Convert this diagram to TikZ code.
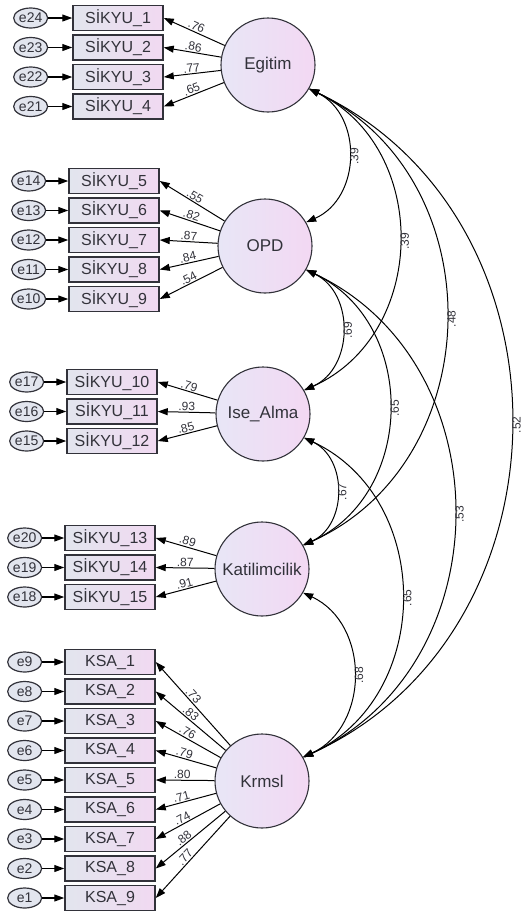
\documentclass[tikz,border=0pt]{standalone}
\usepackage{fontspec}
\setmainfont{Liberation Sans}
\usepackage{tikz}
\usetikzlibrary{shapes,arrows.meta,positioning}

\definecolor{inkgray}{RGB}{50,50,58}
\definecolor{boxleft}{RGB}{226,229,238}
\definecolor{boxright}{RGB}{241,217,241}
\definecolor{latleft}{RGB}{232,230,246}
\definecolor{latright}{RGB}{243,216,243}

\begin{document}
\begin{tikzpicture}[
	x=1pt, y=-1pt,
	latnode/.style={circle, draw=inkgray, line width=1.1pt, left color=latleft, right color=latright, minimum size=94pt, inner sep=0pt, text=inkgray, font=\fontsize{17}{17}\selectfont},
	obsnode/.style={rectangle, draw=inkgray, line width=1.5pt, left color=boxleft, right color=boxright, minimum width=90pt, minimum height=25pt, inner sep=0pt, text=inkgray, font=\fontsize{16}{16}\selectfont},
	errnode/.style={ellipse, draw=inkgray, line width=1.2pt, fill=boxleft, minimum width=34pt, minimum height=20pt, inner sep=0pt, text=inkgray, font=\fontsize{14}{14}\selectfont},
	loadline/.style={-{Triangle[length=10pt,width=7pt]}, line width=1pt},
	errline/.style={-{Triangle[length=10pt,width=7pt]}, line width=1.2pt},
	covline/.style={{Triangle[length=10pt,width=7pt]}-{Triangle[length=10pt,width=7pt]}, line width=1pt, bend left=65, looseness=1.15},
	estlabel/.style={text=inkgray, inner sep=1pt, font=\fontsize{12}{12}\selectfont},
	]
	\useasboundingbox (0,0) rectangle (529,914);
	
	%Latent nodes
	\node[latnode] (Egitim) at (268,65)  {Egitim};
	\node[latnode] (OPD)    at (265,246) {OPD};
	\node[latnode] (Ise)    at (263,414) {Ise\_Alma};
	\node[latnode] (Kat)    at (262,569) {Katilimcilik};
	\node[latnode] (Krmsl)  at (262,781) {Krmsl};
	
	%Observed nodes
	\node[obsnode] (S1) at (118,18) {SİKYU\_1};
	\node[obsnode] (S2) [below=3pt of S1] {SİKYU\_2};
	\node[obsnode] (S3) [below=3pt of S2] {SİKYU\_3};
	\node[obsnode] (S4) [below=3pt of S3] {SİKYU\_4};
	
	\node[obsnode] (S5) at (114,181) {SİKYU\_5};
	\node[obsnode] (S6) [below=3pt of S5] {SİKYU\_6};
	\node[obsnode] (S7) [below=3pt of S6] {SİKYU\_7};
	\node[obsnode] (S8) [below=3pt of S7] {SİKYU\_8};
	\node[obsnode] (S9) [below=3pt of S8] {SİKYU\_9};
	
	\node[obsnode] (S10) at (112,382) {SİKYU\_10};
	\node[obsnode] (S11) [below=3pt of S10] {SİKYU\_11};
	\node[obsnode] (S12) [below=3pt of S11] {SİKYU\_12};
	
	\node[obsnode] (S13) at (110,538) {SİKYU\_13};
	\node[obsnode] (S14) [below=3pt of S13] {SİKYU\_14};
	\node[obsnode] (S15) [below=3pt of S14] {SİKYU\_15};
	
	\node[obsnode] (K1) at (110,662) {KSA\_1};
	\node[obsnode] (K2) [below=3pt of K1] {KSA\_2};
	\node[obsnode] (K3) [below=3pt of K2] {KSA\_3};
	\node[obsnode] (K4) [below=3pt of K3] {KSA\_4};
	\node[obsnode] (K5) [below=3pt of K4] {KSA\_5};
	\node[obsnode] (K6) [below=3pt of K5] {KSA\_6};
	\node[obsnode] (K7) [below=3pt of K6] {KSA\_7};
	\node[obsnode] (K8) [below=3pt of K7] {KSA\_8};
	\node[obsnode] (K9) [below=3pt of K8] {KSA\_9};
	
	%Error nodes
	\node[errnode] (e24) [left=24pt of S1] {e24};
	\node[errnode] (e23) [left=24pt of S2] {e23};
	\node[errnode] (e22) [left=24pt of S3] {e22};
	\node[errnode] (e21) [left=24pt of S4] {e21};
	\node[errnode] (e14) [left=22pt of S5] {e14};
	\node[errnode] (e13) [left=22pt of S6] {e13};
	\node[errnode] (e12) [left=22pt of S7] {e12};
	\node[errnode] (e11) [left=22pt of S8] {e11};
	\node[errnode] (e10) [left=22pt of S9] {e10};
	\node[errnode] (e17) [left=22pt of S10] {e17};
	\node[errnode] (e16) [left=22pt of S11] {e16};
	\node[errnode] (e15) [left=22pt of S12] {e15};
	\node[errnode] (e20) [left=22pt of S13] {e20};
	\node[errnode] (e19) [left=22pt of S14] {e19};
	\node[errnode] (e18) [left=22pt of S15] {e18};
	\node[errnode] (e9) [left=22pt of K1] {e9};
	\node[errnode] (e8) [left=22pt of K2] {e8};
	\node[errnode] (e7) [left=22pt of K3] {e7};
	\node[errnode] (e6) [left=22pt of K4] {e6};
	\node[errnode] (e5) [left=22pt of K5] {e5};
	\node[errnode] (e4) [left=22pt of K6] {e4};
	\node[errnode] (e3) [left=22pt of K7] {e3};
	\node[errnode] (e2) [left=22pt of K8] {e2};
	\node[errnode] (e1) [left=22pt of K9] {e1};
	
	%Error lines
	\draw[errline] (e24) -- (S1);
	\draw[errline] (e23) -- (S2);
	\draw[errline] (e22) -- (S3);
	\draw[errline] (e21) -- (S4);
	\draw[errline] (e14) -- (S5);
	\draw[errline] (e13) -- (S6);
	\draw[errline] (e12) -- (S7);
	\draw[errline] (e11) -- (S8);
	\draw[errline] (e10) -- (S9);
	\draw[errline] (e17) -- (S10);
	\draw[errline] (e16) -- (S11);
	\draw[errline] (e15) -- (S12);
	\draw[errline] (e20) -- (S13);
	\draw[errline] (e19) -- (S14);
	\draw[errline] (e18) -- (S15);
	\draw[errline] (e9) -- (K1);
	\draw[errline] (e8) -- (K2);
	\draw[errline] (e7) -- (K3);
	\draw[errline] (e6) -- (K4);
	\draw[errline] (e5) -- (K5);
	\draw[errline] (e4) -- (K6);
	\draw[errline] (e3) -- (K7);
	\draw[errline] (e2) -- (K8);
	\draw[errline] (e1) -- (K9);
	
	%Loading lines
	\draw[loadline] (Egitim) -- node[estlabel, sloped, above]{.76} (S1.east);
	\draw[loadline] (Egitim) -- node[estlabel, sloped, above]{.86} (S2.east);
	\draw[loadline] (Egitim) -- node[estlabel, sloped, above]{.77} (S3.east);
	\draw[loadline] (Egitim) -- node[estlabel, sloped, above]{.65} (S4.east);
	\draw[loadline] (OPD) -- node[estlabel, sloped, above]{.55} (S5.east);
	\draw[loadline] (OPD) -- node[estlabel, sloped, above]{.82} (S6.east);
	\draw[loadline] (OPD) -- node[estlabel, sloped, above]{.87} (S7.east);
	\draw[loadline] (OPD) -- node[estlabel, sloped, above]{.84} (S8.east);
	\draw[loadline] (OPD) -- node[estlabel, sloped, above]{.54} (S9.east);
	\draw[loadline] (Ise) -- node[estlabel, sloped, above]{.79} (S10.east);
	\draw[loadline] (Ise) -- node[estlabel, sloped, above]{.93} (S11.east);
	\draw[loadline] (Ise) -- node[estlabel, sloped, above]{.85} (S12.east);
	\draw[loadline] (Kat) -- node[estlabel, sloped, above]{.89} (S13.east);
	\draw[loadline] (Kat) -- node[estlabel, sloped, above]{.87} (S14.east);
	\draw[loadline] (Kat) -- node[estlabel, sloped, above]{.91} (S15.east);
	\draw[loadline] (Krmsl) -- node[estlabel, sloped, above, pos=.55]{.73} (K1.east);
	\draw[loadline] (Krmsl) -- node[estlabel, sloped, above, pos=.55]{.83} (K2.east);
	\draw[loadline] (Krmsl) -- node[estlabel, sloped, above, pos=.55]{.76} (K3.east);
	\draw[loadline] (Krmsl) -- node[estlabel, sloped, above, pos=.55]{.79} (K4.east);
	\draw[loadline] (Krmsl) -- node[estlabel, sloped, above, pos=.55]{.80} (K5.east);
	\draw[loadline] (Krmsl) -- node[estlabel, sloped, above, pos=.55]{.71} (K6.east);
	\draw[loadline] (Krmsl) -- node[estlabel, sloped, above, pos=.55]{.74} (K7.east);
	\draw[loadline] (Krmsl) -- node[estlabel, sloped, above, pos=.55]{.88} (K8.east);
	\draw[loadline] (Krmsl) -- node[estlabel, sloped, above, pos=.55]{.77} (K9.east);
	
	%Covariances
	\draw[covline] (Egitim.-30) to node[estlabel, midway, rotate=90, anchor=north]{.39} (OPD.30);
	\draw[covline] (Egitim.-30) to node[estlabel, midway, rotate=90, anchor=north]{.39} (Ise.30);
	\draw[covline] (Egitim.-30) to node[estlabel, midway, rotate=90, anchor=north]{.48} (Kat.30);
	\draw[covline] (Egitim.-30) to node[estlabel, midway, rotate=90, anchor=north]{.52} (Krmsl.30);
	\draw[covline] (OPD.-30) to node[estlabel, midway, rotate=90, anchor=north]{.69} (Ise.30);
	\draw[covline] (OPD.-30) to node[estlabel, midway, rotate=90, anchor=north]{.65} (Kat.30);
	\draw[covline] (OPD.-30) to node[estlabel, midway, rotate=90, anchor=north]{.53} (Krmsl.30);
	\draw[covline] (Ise.-30) to node[estlabel, midway, rotate=90, anchor=north]{.67} (Kat.30);
	\draw[covline] (Ise.-30) to node[estlabel, midway, rotate=90, anchor=north]{.65} (Krmsl.30);
	\draw[covline] (Kat.-30) to node[estlabel, midway, rotate=90, anchor=north]{.68} (Krmsl.30);
\end{tikzpicture}
\end{document}
